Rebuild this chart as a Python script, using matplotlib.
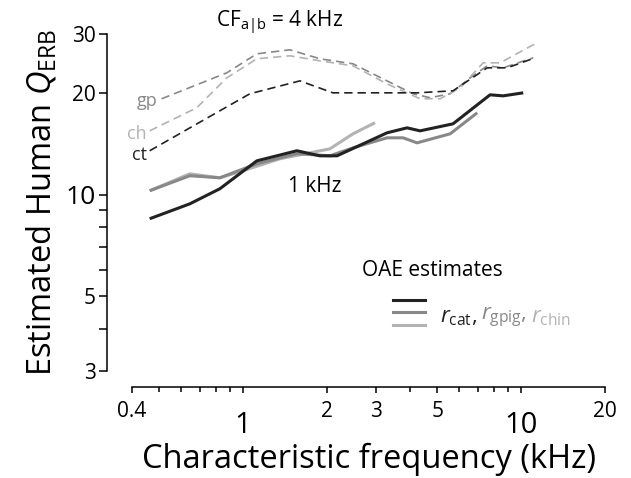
import matplotlib
matplotlib.use("Agg")
from matplotlib import pyplot as plt
from matplotlib.ticker import FixedLocator, NullFormatter, FixedFormatter

plt.rcParams["font.family"] = ["Open Sans", "DejaVu Sans"]
plt.rcParams["mathtext.fontset"] = "custom"
plt.rcParams["mathtext.rm"] = "Open Sans"
plt.rcParams["mathtext.it"] = "Open Sans:italic"

BLACK = "#222222"
GREY = "#888888"
LIGHT = "#b3b3b3"

# dashed curves (CF = 4 kHz style)
gp_f = [0.511, 0.876, 1.123, 1.476, 1.892, 2.488, 3.296, 4.088, 4.705, 5.558, 6.556, 7.55, 8.61, 11.05]
gp_q = [19.27, 23.01, 26.2, 26.93, 25.33, 24.47, 21.78, 19.94, 19.41, 19.94, 22.23, 24.14, 23.81, 25.5]
ch_f = [0.463, 0.683, 0.876, 1.123, 1.476, 1.892, 2.488, 3.296, 4.333, 5.114, 6.04, 7.30, 8.40, 11.22]
ch_q = [15.48, 18.12, 22.23, 25.33, 25.85, 24.98, 24.14, 21.34, 19.27, 19.27, 20.77, 24.64, 24.64, 28.06]
ct_f = [0.463, 0.827, 1.06, 1.604, 2.107, 2.792, 4.226, 5.69, 7.55, 8.91, 11.22]
ct_q = [13.51, 17.75, 19.94, 21.78, 20.07, 20.07, 20.07, 20.35, 23.81, 23.81, 25.5]

# solid curves (OAE estimates)
cat_f = [0.463, 0.645, 0.827, 1.123, 1.564, 1.892, 2.179, 3.296, 3.890, 4.333, 5.69, 7.73, 8.61, 10.17]
cat_q = [8.49, 9.40, 10.42, 12.61, 13.51, 13.05, 13.05, 15.27, 15.80, 15.48, 16.24, 19.80, 19.66, 20.07]
gpig_f = [0.463, 0.645, 0.827, 1.123, 1.564, 2.056, 2.488, 3.296, 3.764, 4.226, 5.558, 6.95]
gpig_q = [10.28, 11.39, 11.23, 12.36, 13.24, 13.05, 13.78, 14.76, 14.76, 14.26, 15.17, 17.51]
chin_f = [0.463, 0.645, 0.827, 1.0, 1.359, 2.056, 2.488, 2.984]
chin_q = [10.28, 11.54, 11.23, 11.78, 12.79, 13.69, 15.17, 16.36]

xticks_major = [0.4, 1, 2, 3, 5, 10, 20]
xticks_minor = [0.5, 0.6, 0.7, 0.8, 0.9, 4, 6, 7, 8, 9]
yticks_major = [3, 5, 10, 20, 30]
yticks_minor = [4, 6, 7, 8, 9]

W, H = 631, 478
fig = plt.figure(figsize=(W / 100, H / 100), dpi=100)
ax = fig.add_axes([132 / W, 107 / H, (605 - 132) / W, (371 - 34) / H])
ax.set_xscale("log")
ax.set_yscale("log")
ax.set_xlim(0.4, 20)
ax.set_ylim(3, 30)

ax.plot(gp_f, gp_q, color=GREY, lw=1.2, dashes=(5, 3))
ax.plot(ch_f, ch_q, color=LIGHT, lw=1.2, dashes=(5, 3))
ax.plot(ct_f, ct_q, color=BLACK, lw=1.2, dashes=(5, 3))
ax.plot(chin_f, chin_q, color=LIGHT, lw=2.2, solid_capstyle="butt")
ax.plot(gpig_f, gpig_q, color=GREY, lw=2.2, solid_capstyle="butt")
ax.plot(cat_f, cat_q, color=BLACK, lw=2.2, solid_capstyle="butt")

for s in ["top", "right"]:
    ax.spines[s].set_visible(False)
ax.spines["left"].set_position(("outward", 18))
ax.spines["bottom"].set_position(("outward", 11.5))
for s in ["left", "bottom"]:
    ax.spines[s].set_linewidth(1.1)
    ax.spines[s].set_color("black")

ax.xaxis.set_major_locator(FixedLocator(xticks_major))
ax.xaxis.set_minor_locator(FixedLocator(xticks_minor))
ax.xaxis.set_major_formatter(FixedFormatter([str(v) for v in xticks_major]))
ax.xaxis.set_minor_formatter(NullFormatter())
ax.yaxis.set_major_locator(FixedLocator(yticks_major))
ax.yaxis.set_minor_locator(FixedLocator(yticks_minor))
ax.yaxis.set_major_formatter(FixedFormatter([str(v) for v in yticks_major]))
ax.yaxis.set_minor_formatter(NullFormatter())

ax.tick_params(axis="both", which="both", direction="out", width=1.1, color="black")
ax.tick_params(axis="x", which="major", length=4.5, pad=5.5, labelsize=15)
ax.tick_params(axis="x", which="minor", length=3.5)
ax.tick_params(axis="y", which="major", length=6, pad=2, labelsize=15)
ax.tick_params(axis="y", which="minor", length=6)

fig.canvas.draw()
for t, v in zip(ax.xaxis.get_major_ticks(), xticks_major):
    if v in (1, 10):
        t.tick1line.set_markersize(9)
        t.label1.set_fontsize(21)
        t.set_pad(13)
for t, v in zip(ax.yaxis.get_major_ticks(), yticks_major):
    if v == 10:
        t.label1.set_fontsize(19)

ax.set_xlabel("Characteristic frequency (kHz)", fontsize=23.5, labelpad=2)
ax.set_ylabel(r"Estimated Human $\mathit{Q}_{\mathrm{ERB}}$", fontsize=23.5, labelpad=5)

# curve labels
ax.text(0.495, 19.0, "gp", color=GREY, fontsize=13, ha="right", va="center")
ax.text(0.452, 15.1, "ch", color=LIGHT, fontsize=13, ha="right", va="center")
ax.text(0.452, 13.1, "ct", color=BLACK, fontsize=13, ha="right", va="center")
ax.text(1.36, 32.4, r"CF$_{\mathrm{a|b}}$ = 4 kHz", fontsize=15, ha="center", va="center")
ax.text(1.82, 10.6, "1 kHz", fontsize=15, ha="center", va="center")

# legend
fig.text(362 / W, 1 - 270 / H, "OAE estimates", fontsize=15, va="center")
for yy, c in zip([300, 312, 325], [BLACK, GREY, LIGHT]):
    fig.add_artist(plt.Line2D([393 / W, 425 / W], [1 - yy / H, 1 - yy / H], color=c, lw=2.2,
                              transform=fig.transFigure))
leg_labels = [r"$r_{\mathrm{cat}}$,", r"$r_{\mathrm{gpig}}$,", r"$r_{\mathrm{chin}}$"]
leg_colors = [BLACK, GREY, LIGHT]
renderer = fig.canvas.get_renderer()
x0 = 440
for lab, c in zip(leg_labels, leg_colors):
    t = fig.text(x0 / W, 1 - 317 / H, lab, color=c, fontsize=16, va="center")
    x0 = t.get_window_extent(renderer).x1 + 4

fig.savefig("out.png", dpi=100)
